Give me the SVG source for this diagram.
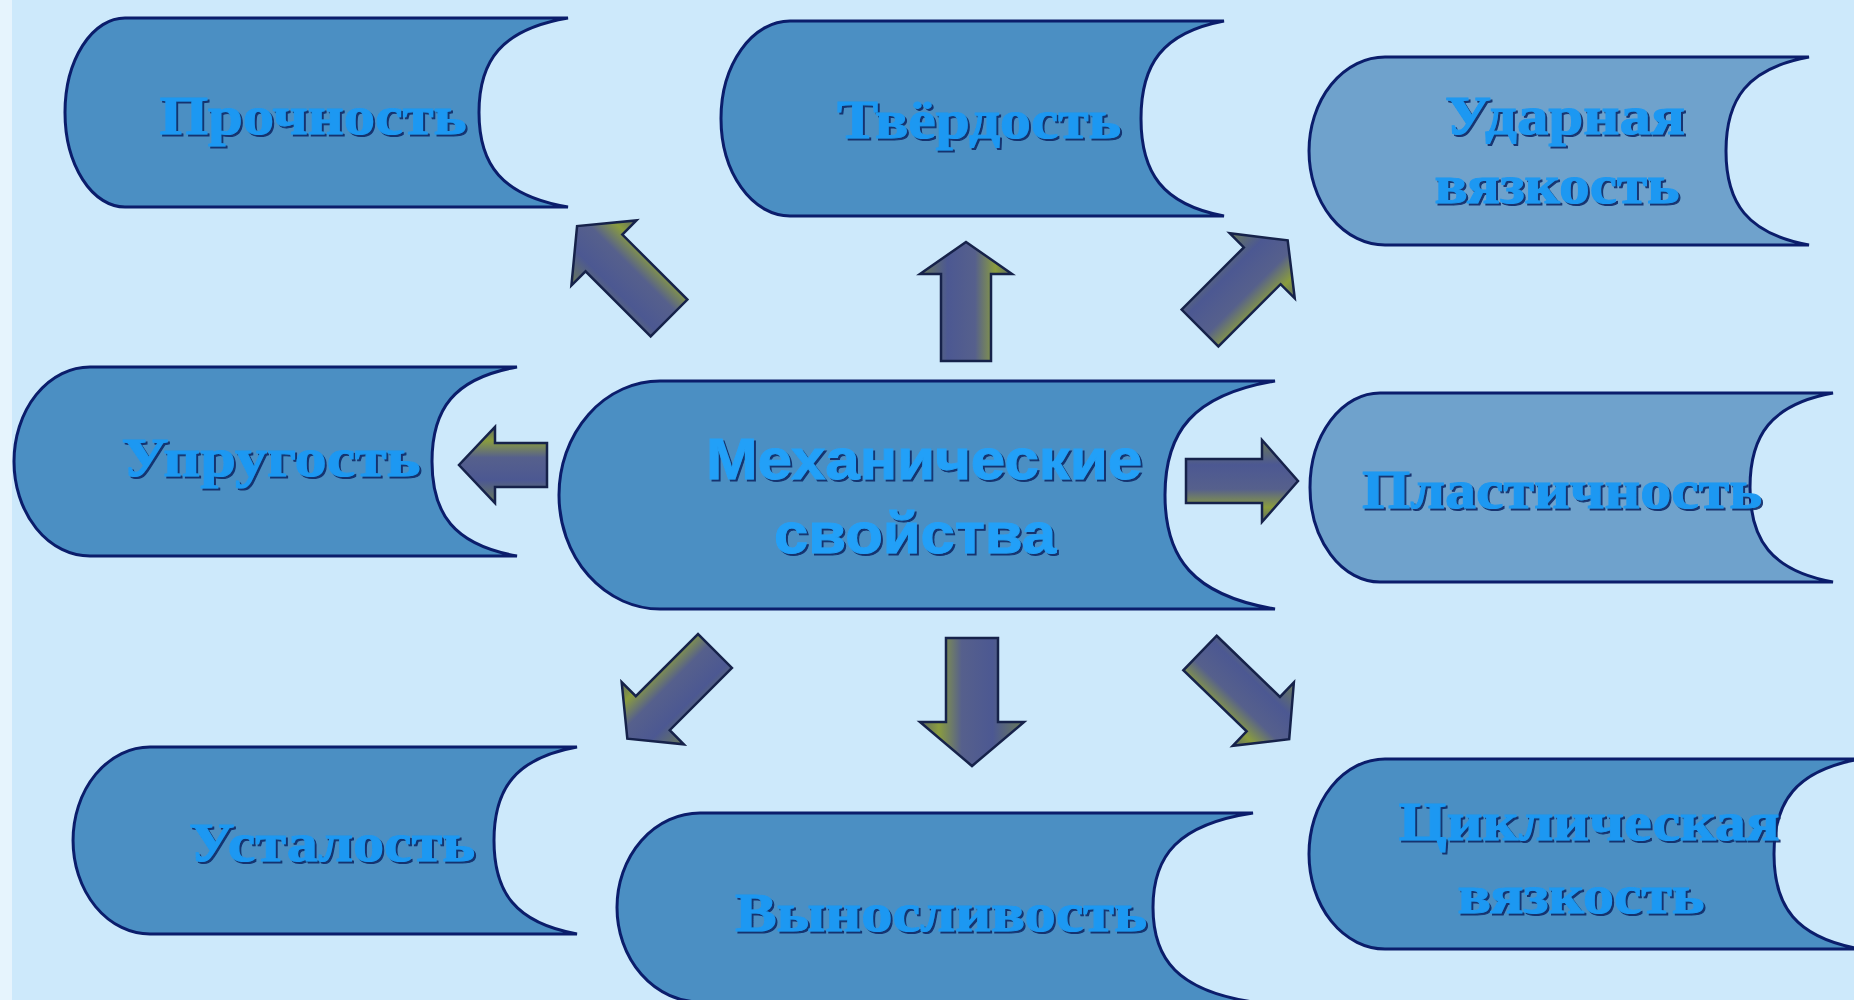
<svg xmlns="http://www.w3.org/2000/svg" width="1854" height="1000" viewBox="0 0 1854 1000">
<defs>
<linearGradient id="ag" x1="0" y1="0" x2="0" y2="1">
<stop offset="0" stop-color="#6a7a58"/>
<stop offset="0.3" stop-color="#4c5892"/>
<stop offset="0.6" stop-color="#56608c"/>
<stop offset="0.82" stop-color="#8a9c3e"/>
<stop offset="1" stop-color="#5e6a64"/>
</linearGradient>
<filter id="sh" x="-5%" y="-20%" width="110%" height="140%">
<feDropShadow dx="2" dy="2" stdDeviation="0.6" flood-color="#0b2a66" flood-opacity="0.9"/>
</filter>
<style>
.nd{fill:#4b8fc3;stroke:#0b1d6b;stroke-width:3;stroke-linejoin:miter}
.nl{fill:#6fa2cc}
.tx{font-family:"Liberation Serif","Times New Roman",serif;font-weight:bold;font-size:54px;fill:#1c98f2;stroke:#1c98f2;stroke-width:1;text-anchor:middle;filter:url(#sh)}
.ts{font-family:"Liberation Sans",Arial,sans-serif;font-size:58px;fill:#24a0f8;stroke:#24a0f8}
.ar{fill:url(#ag);stroke:#16224a;stroke-width:2.5;stroke-linejoin:miter}
</style>
</defs>
<rect width="1854" height="1000" fill="#cde9fb"/>
<rect width="12" height="1000" fill="#e6f4fd"/>

<g id="connectors">
<path class="ar" transform="translate(966,361) rotate(-90)" d="M0,-25 L87,-25 L87,-46 L119,0 L87,46 L87,25 L0,25 Z"/>
<path class="ar" transform="translate(547,465) rotate(180)" d="M0,-22 L52,-22 L52,-38 L88,0 L52,38 L52,22 L0,22 Z"/>
<path class="ar" transform="translate(1186,481)" d="M0,-22 L76,-22 L76,-41 L112,0 L76,41 L76,22 L0,22 Z"/>
<path class="ar" transform="translate(972,638) rotate(90)" d="M0,-26 L84,-26 L84,-52 L128,0 L84,52 L84,26 L0,26 Z"/>
<path class="ar" transform="translate(669,318) rotate(-135)" d="M0,-26 L92,-26 L92,-46 L130,0 L92,46 L92,26 L0,26 Z"/>
<path class="ar" transform="translate(1200,328) rotate(-45)" d="M0,-26 L88,-26 L88,-46 L124,0 L88,46 L88,26 L0,26 Z"/>
<path class="ar" transform="translate(715,651) rotate(135)" d="M0,-24 L88,-24 L88,-44 L124,0 L88,44 L88,24 L0,24 Z"/>
<path class="ar" transform="translate(1200,653) rotate(44)" d="M0,-24 L88,-24 L88,-44 L124,0 L88,44 L88,24 L0,24 Z"/>
</g>

<g id="n-prochnost">
<path class="nd" d="M568,18 L125,18 A60,94.5 0 0 0 125,207 L568,207 C501.3,195.7 479,164.5 479,112.5 C479,60.5 501.3,29.3 568,18 Z"/>
<text class="tx" x="313" y="134" textLength="307" lengthAdjust="spacingAndGlyphs">Прочность</text>
</g>
<g id="n-tverdost">
<path class="nd" d="M1224,21 L790,21 A69,97.5 0 0 0 790,216 L1224,216 C1161.8,204.3 1141,172.1 1141,118.5 C1141,64.9 1161.8,32.7 1224,21 Z"/>
<text class="tx" x="979" y="138" textLength="284" lengthAdjust="spacingAndGlyphs">Твёрдость</text>
</g>
<g id="n-udarnaya">
<path class="nd nl" d="M1809,57 L1385,57 A76,94 0 0 0 1385,245 L1809,245 C1746.8,233.7 1726,202.7 1726,151 C1726,99.3 1746.8,68.3 1809,57 Z"/>
<text class="tx" x="1565" y="134" textLength="240" lengthAdjust="spacingAndGlyphs">Ударная</text>
<text class="tx" x="1557" y="203" textLength="245" lengthAdjust="spacingAndGlyphs">вязкость</text>
</g>
<g id="n-uprugost">
<path class="nd" d="M517,367 L90,367 A76,94.5 0 0 0 90,556 L517,556 C453.3,544.7 432,513.5 432,461.5 C432,409.5 453.3,378.3 517,367 Z"/>
<text class="tx" x="271" y="476" textLength="299" lengthAdjust="spacingAndGlyphs">Упругость</text>
</g>
<g id="n-mech">
<path class="nd" d="M1275,381 L660,381 A101,114 0 0 0 660,609 L1275,609 C1192.5,595.3 1165,557.7 1165,495 C1165,432.3 1192.5,394.7 1275,381 Z"/>
<text class="tx ts" x="924" y="479" textLength="436" lengthAdjust="spacingAndGlyphs">Механические</text>
<text class="tx ts" x="915" y="553" textLength="282" lengthAdjust="spacingAndGlyphs">свойства</text>
</g>
<g id="n-plastichnost">
<path class="nd nl" d="M1833,393 L1380,393 A70,94.5 0 0 0 1380,582 L1833,582 C1770.8,570.7 1750,539.5 1750,487.5 C1750,435.5 1770.8,404.3 1833,393 Z"/>
<text class="tx" x="1562" y="508" textLength="400" lengthAdjust="spacingAndGlyphs">Пластичность</text>
</g>
<g id="n-ustalost">
<path class="nd" d="M577,747 L150,747 A77,93.5 0 0 0 150,934 L577,934 C514.8,922.8 494,891.9 494,840.5 C494,789.1 514.8,758.2 577,747 Z"/>
<text class="tx" x="332" y="861" textLength="286" lengthAdjust="spacingAndGlyphs">Усталость</text>
</g>
<g id="n-vynoslivost">
<path class="nd" d="M1253,813 L700,813 A83,94.5 0 0 0 700,1002 L1253,1002 C1178,990.7 1153,959.5 1153,907.5 C1153,855.5 1178,824.3 1253,813 Z"/>
<text class="tx" x="941" y="931" textLength="412" lengthAdjust="spacingAndGlyphs">Выносливость</text>
</g>
<g id="n-tsiklicheskaya">
<path class="nd" d="M1860,759 L1385,759 A76,95 0 0 0 1385,949 L1860,949 C1795.5,937.6 1774,906.3 1774,854 C1774,801.8 1795.5,770.4 1860,759 Z"/>
<text class="tx" x="1589" y="840" textLength="381" lengthAdjust="spacingAndGlyphs">Циклическая</text>
<text class="tx" x="1581" y="913" textLength="247" lengthAdjust="spacingAndGlyphs">вязкость</text>
</g>
</svg>
